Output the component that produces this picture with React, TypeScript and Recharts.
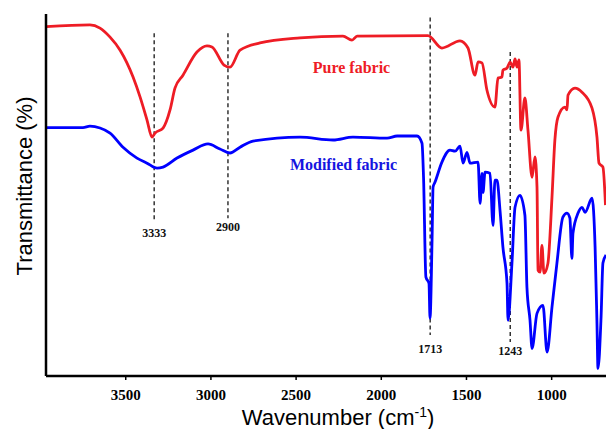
import React from 'react';
import { LineChart, Line, XAxis, YAxis, ReferenceLine, ReferenceDot } from 'recharts';

// Pure fabric spectrum (wavenumber cm-1, transmittance in arbitrary %)
const pureWavenumber = [3968, 3710, 3651, 3592, 3533, 3457, 3416, 3375, 3346, 3328, 3281, 3240, 3211, 3164, 3082, 3023, 2994, 2923, 2888, 2829, 2712, 2477, 2225, 2172, 2142, 1726, 1644, 1538, 1491, 1450, 1432, 1409, 1380, 1333, 1315, 1292, 1286, 1262, 1244, 1227, 1215, 1203, 1192, 1180, 1157, 1139, 1115, 1098, 1086, 1080, 1068, 1057, 1045, 1022, 998, 981, 963, 922, 910, 904, 863, 822, 763, 734, 722, 699, 684];
const pureT = [96.5, 97.0, 96.1, 93.6, 90.0, 82.6, 77.1, 70.7, 66.0, 67.1, 68.5, 73.5, 79.5, 83.1, 89.5, 91.2, 90.9, 85.9, 85.3, 90.0, 92.0, 93.4, 93.9, 92.8, 93.9, 94.0, 90.6, 92.6, 90.6, 83.1, 86.8, 86.5, 79.0, 74.3, 82.3, 82.6, 84.5, 85.1, 86.7, 85.3, 87.6, 85.3, 87.3, 67.9, 76.8, 67.9, 54.9, 60.5, 52.2, 29.2, 28.7, 36.1, 28.4, 31.1, 49.4, 65.2, 71.5, 74.3, 73.5, 77.6, 79.5, 78.4, 74.0, 66.0, 58.8, 57.7, 47.2];

// Modified fabric spectrum
const modWavenumber = [3968, 3751, 3710, 3651, 3592, 3516, 3434, 3375, 3316, 3281, 3199, 3105, 3017, 2947, 2888, 2829, 2753, 2477, 2283, 2166, 1966, 1907, 1790, 1761, 1752, 1738, 1720, 1714, 1702, 1696, 1685, 1644, 1597, 1567, 1538, 1520, 1497, 1479, 1432, 1420, 1409, 1403, 1391, 1362, 1344, 1333, 1321, 1303, 1286, 1262, 1256, 1233, 1215, 1186, 1157, 1145, 1127, 1115, 1086, 1051, 1027, 998, 969, 934, 910, 893, 881, 875, 845, 822, 804, 763, 745, 734, 728, 710, 699, 681];
const modT = [68.6, 68.6, 69.0, 68.5, 67.1, 63.2, 60.2, 58.8, 57.4, 57.7, 60.2, 62.4, 64.1, 62.7, 61.6, 63.2, 64.9, 66.0, 65.2, 66.0, 65.7, 66.3, 66.3, 64.3, 54.9, 27.3, 25.6, 16.0, 37.5, 52.2, 53.5, 59.1, 62.4, 62.1, 63.5, 58.8, 61.8, 58.8, 59.1, 47.7, 56.0, 50.7, 56.3, 56.0, 41.6, 54.1, 54.1, 45.7, 35.6, 25.6, 15.4, 31.2, 46.6, 49.9, 44.4, 24.5, 15.4, 7.6, 17.3, 19.5, 6.6, 19.0, 31.2, 43.9, 45.0, 43.6, 32.5, 39.4, 45.0, 46.6, 45.2, 49.1, 35.6, 14.6, 2.1, 16.2, 31.2, 33.4];

const xTicks = [3500, 3000, 2500, 2000, 1500, 1000];

const peakLabels = ['3333', '2900', '1713', '1243'];
const peakWavenumber = [3333, 2900, 1713, 1243];
const peakTop = [94.7, 94.7, 99.0, 89.5];
const peakBottom = [42.6, 43.6, 11.3, 9.4];

const seriesNames = ['Pure fabric', 'Modified fabric'];
const seriesLabelPos = [
  { w: 2175, t: 83.6 },
  { w: 2222, t: 56.9 },
];

const pureData = pureWavenumber.map((w, i) => ({ w, t: pureT[i] }));
const modData = modWavenumber.map((w, i) => ({ w, t: modT[i] }));

const RED = '#ee1c25';
const BLUE = '#0000ff';
const SERIF = '"Liberation Serif", "Times New Roman", serif';
const SANS = '"Liberation Sans", Arial, sans-serif';

const labelDy = [15, 12.7, 18.3, 13.3];

export default function App() {
  return (
    <div style={{ position: 'absolute', left: 0, top: 0, width: 606, height: 429, background: '#fff' }}>
      <LineChart width={606} height={429} margin={{ top: 14, right: 0, left: 0, bottom: 0 }}>
        <XAxis
          xAxisId="main"
          type="number"
          dataKey="w"
          domain={[681, 3968]}
          allowDataOverflow
          reversed
          ticks={xTicks}
          height={53}
          tickSize={4}
          tickMargin={9}
          tickLine={{ stroke: '#000', strokeWidth: 1.5 }}
          axisLine={{ stroke: '#000', strokeWidth: 2.5 }}
          tick={{ fill: '#000', fontSize: 15, fontWeight: 'bold', fontFamily: SERIF }}
          label={() => (
            <text x={338} y={425} textAnchor="middle" fontFamily={SANS} fontSize={22} fill="#000">
              Wavenumber (cm<tspan dy={-8} fontSize={14}>-1</tspan>
              <tspan dy={8} fontSize={22}>)</tspan>
            </text>
          )}
        />
        <XAxis
          xAxisId="top"
          orientation="top"
          type="number"
          dataKey="w"
          domain={[681, 3968]}
          allowDataOverflow
          reversed
          height={0}
          tick={false}
          tickLine={false}
          axisLine={{ stroke: '#000', strokeWidth: 2.5 }}
        />
        <YAxis
          type="number"
          domain={[0, 100]}
          allowDataOverflow
          width={46}
          tick={false}
          tickLine={false}
          axisLine={{ stroke: '#000', strokeWidth: 2.5 }}
          label={() => (
            <text
              x={32}
              y={186}
              transform="rotate(-90 32 186)"
              textAnchor="middle"
              fontFamily={SANS}
              fontSize={22}
              fill="#000"
            >
              Transmittance (%)
            </text>
          )}
        />
        {peakWavenumber.map((w, i) => (
          <ReferenceLine
            key={peakLabels[i]}
            xAxisId="main"
            segment={[
              { x: w, y: peakTop[i] },
              { x: w, y: peakBottom[i] },
            ]}
            stroke="#333"
            strokeWidth={1.5}
            strokeDasharray="4 3"
            label={(props: any) => {
              const vb = props.viewBox || {};
              const cx = (vb.x ?? 0) + (vb.width ?? 0) / 2;
              const by = (vb.y ?? 0) + (vb.height ?? 0) + labelDy[i];
              return (
                <text x={cx} y={by} textAnchor="middle" fontFamily={SERIF} fontWeight="bold" fontSize={12} fill="#111">
                  {peakLabels[i]}
                </text>
              );
            }}
          />
        ))}
        <Line
          xAxisId="main"
          data={pureData}
          dataKey="t"
          type="monotoneX"
          stroke={RED}
          strokeWidth={2.8}
          dot={false}
          isAnimationActive={false}
        />
        <Line
          xAxisId="main"
          data={modData}
          dataKey="t"
          type="monotoneX"
          stroke={BLUE}
          strokeWidth={2.8}
          dot={false}
          isAnimationActive={false}
        />
        {seriesLabelPos.map((p, i) => (
          <ReferenceDot
            key={seriesNames[i]}
            xAxisId="main"
            x={p.w}
            y={p.t}
            r={0}
            fill="none"
            stroke="none"
            label={(props: any) => {
              const vb = props.viewBox || {};
              const cx = (vb.x ?? 0) + (vb.width ?? 0) / 2;
              const cy = (vb.y ?? 0) + (vb.height ?? 0) / 2;
              return (
                <text
                  x={cx}
                  y={cy}
                  textAnchor="middle"
                  fontFamily={SERIF}
                  fontWeight="bold"
                  fontSize={16}
                  fill={i === 0 ? RED : '#1515e0'}
                >
                  {seriesNames[i]}
                </text>
              );
            }}
          />
        ))}
      </LineChart>
    </div>
  );
}
